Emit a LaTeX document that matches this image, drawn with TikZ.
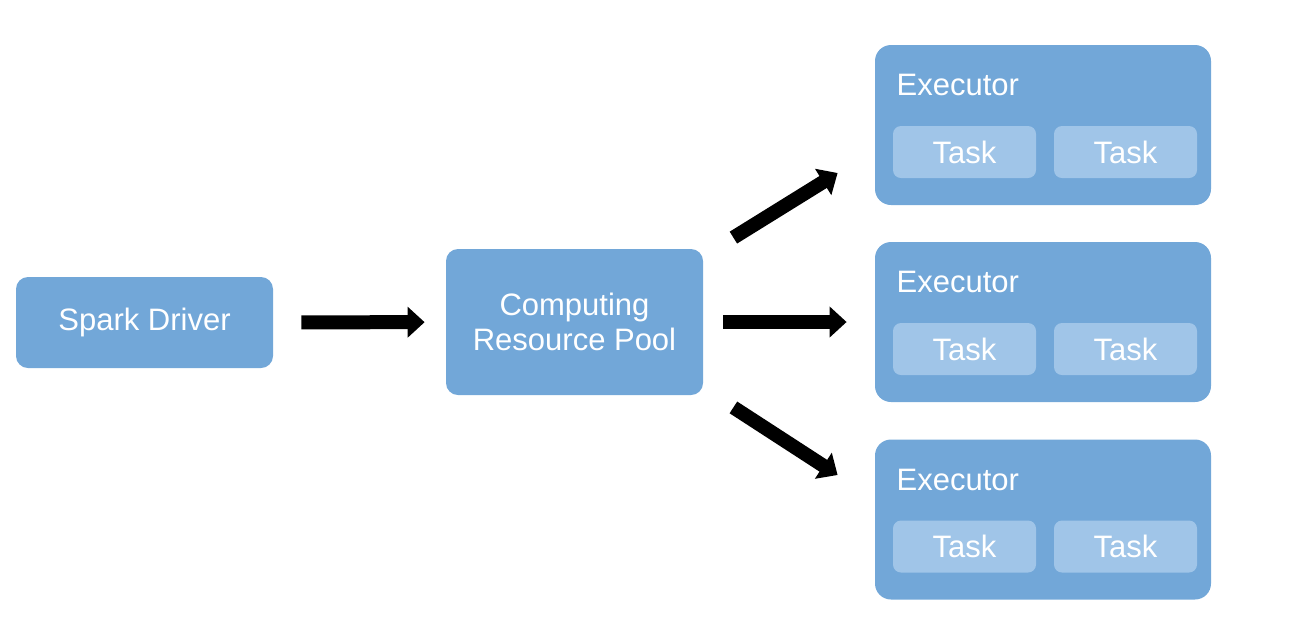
\documentclass[tikz,border=0pt]{standalone}
\usepackage{fontspec}
\setmainfont{Liberation Sans}
\usetikzlibrary{arrows.meta,positioning,calc}
\definecolor{boxblue}{HTML}{72A7D8}
\definecolor{taskblue}{HTML}{A0C5E8}
\tikzset{
	block/.style={fill=boxblue,rounded corners=6pt,text=white,align=center,font=\fontsize{15.5}{17.5}\selectfont},
	taskbox/.style={fill=taskblue,rounded corners=4pt,text=white,minimum width=71.5pt,minimum height=26pt,font=\fontsize{15.5}{17.5}\selectfont},
	bigarrow/.style={line width=7pt,-{Triangle[width=15pt,length=8.5pt]}}
}

\begin{document}
\begin{tikzpicture}[x=0.5pt,y=-0.5pt]
	\useasboundingbox (0,0) rectangle (1306,634);

	\node[block,minimum width=128.5pt,minimum height=45.5pt] (driver) at (144.5,322.5) {Spark Driver};
	\node[block,minimum width=128.5pt,minimum height=73pt  ] (pool) at (574.5,322) {Computing\\Resource Pool};

	\foreach \i/\y in {1/125,2/322,3/519.5} {
		\node[block,minimum width=168pt,minimum height=80pt,rounded corners=8pt] (exec\i) at (1043,\y) {};
		\node[text=white,anchor=west,font=\fontsize{15.5}{17.5}\selectfont] at ($(exec\i.west)+(15,-40)$) {Executor};
		\node[taskbox] (task\i a) at ($(exec\i.center)+(-78.5,27)$) {Task};
		\node[taskbox] (task\i b) at ($(exec\i.center)+( 82.5,27)$) {Task};
	}

	\draw[bigarrow,shorten <=14pt,shorten >=10.5pt] (driver) -- (pool);
	\draw[bigarrow,shorten <=10pt,shorten >=14pt  ] (pool.east) -- (exec2.west);
	\draw[bigarrow] ([xshift=15pt,yshift=5.5pt]pool.north east) -- ([xshift=-18.5pt,yshift=-24pt]exec1.west);
	\draw[bigarrow] ([xshift=15pt,yshift=-6pt]pool.south east) -- ([xshift=-18.5pt,yshift=22.25pt]exec3.west);
\end{tikzpicture}
\end{document}
